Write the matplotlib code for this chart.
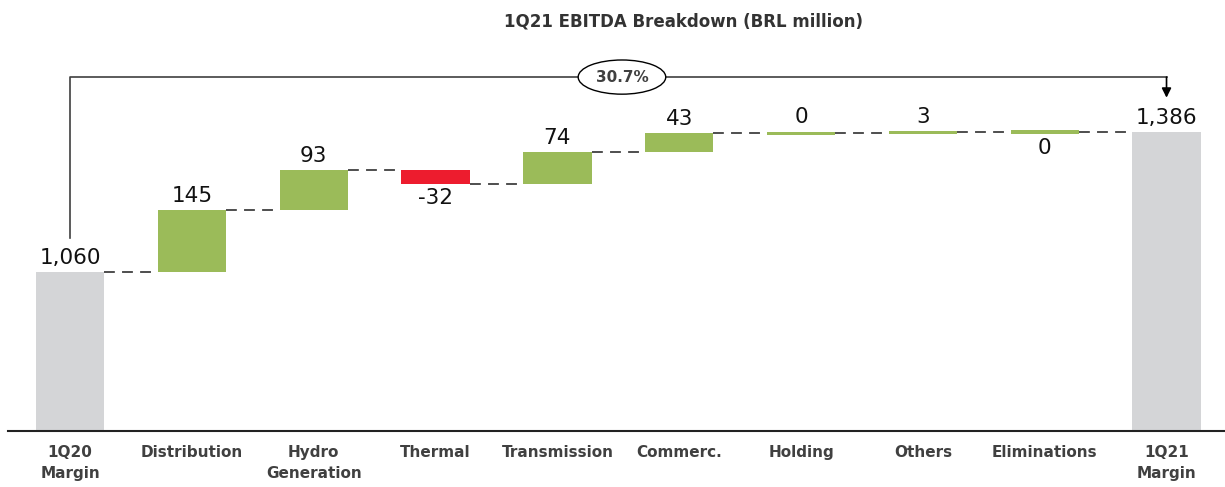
import matplotlib.pyplot as plt
import numpy as np

plt.rcParams['font.family'] = ['DejaVu Sans']

# data
categories = ['1Q20\nMargin', 'Distribution', 'Hydro\nGeneration', 'Thermal', 'Transmission',
              'Commerc.', 'Holding', 'Others', 'Eliminations', '1Q21\nMargin']
start_total = 1060
deltas = [145, 93, -32, 74, 43, 0.2, 3, -0.2]
end_total = 1386
growth_label = '30.7%'
title = '1Q21 EBITDA Breakdown (BRL million)'

GREEN = '#9BBB59'
RED = '#ED1C2E'
GRAY = '#D4D5D7'
DARK = '#404040'

fig = plt.figure(figsize=(12.25, 4.87), dpi=100)
ax = fig.add_axes([0.0065, 0.115, 0.9935, 0.762])

x = np.arange(len(categories))
w = 0.56
min_h = 8

# totals
ax.bar(x[0], start_total, width=w, color=GRAY)
ax.bar(x[-1], end_total, width=w, color=GRAY)
ax.annotate(f'{start_total:,}', (x[0], start_total), xytext=(0, 3), textcoords='offset points',
            ha='center', va='bottom', fontsize=15.5, color='#111111')
ax.annotate(f'{end_total:,}', (x[-1], end_total), xytext=(0, 3), textcoords='offset points',
            ha='center', va='bottom', fontsize=15.5, color='#111111')

level = start_total
levels = [level]
for i, d in enumerate(deltas, start=1):
    color = RED if round(d) < 0 else GREEN
    if abs(d) < min_h:
        top = level + d / 2 + min_h / 2
        bot = level + d / 2 - min_h / 2
    else:
        top = max(level, level + d)
        bot = min(level, level + d)
    ax.bar(x[i], top - bot, bottom=bot, width=w, color=color)
    if d >= 0:
        ax.annotate(f'{round(d):,}', (x[i], top), xytext=(0, 3), textcoords='offset points',
                    ha='center', va='bottom', fontsize=15.5, color='#111111')
    else:
        ax.annotate(f'{round(d):,}', (x[i], bot), xytext=(0, -3), textcoords='offset points',
                    ha='center', va='top', fontsize=15.5, color='#111111')
    level += d
    levels.append(level)

# connectors
for i in range(len(categories) - 1):
    ax.plot([x[i] + w / 2, x[i + 1] - w / 2], [levels[i], levels[i]],
            color=DARK, lw=1.3, dashes=(6, 4))

# growth bracket
y_br = 1514
ax.plot([x[0], x[0], x[-1]], [1139, y_br, y_br], color=DARK, lw=1.2)
ax.annotate('', xy=(x[-1], 1466), xytext=(x[-1], y_br),
            arrowprops=dict(arrowstyle='-|>', color='black', lw=1.2, mutation_scale=14,
                            shrinkA=0, shrinkB=0))
ax.text(4.53, y_br, growth_label, ha='center', va='center', fontsize=11, fontweight='bold',
        color=DARK, bbox=dict(boxstyle='ellipse,pad=0.3', fc='white', ec='black', lw=1.0))

ax.set_xlim(-0.51, 9.48)
ax.set_ylim(690, 1554)
ax.set_xticks(x)
ax.set_xticklabels(categories, fontsize=11, fontweight='bold', color=DARK, linespacing=1.5)
ax.tick_params(axis='x', length=0, pad=10)
ax.set_yticks([])
for s in ['top', 'left', 'right']:
    ax.spines[s].set_visible(False)
ax.spines['bottom'].set_color('#222222')
ax.spines['bottom'].set_linewidth(1.5)

fig.text(0.5576, 0.955, title, ha='center', va='center', fontsize=12, fontweight='bold', color='#333333')

fig.savefig('out.png', dpi=100)
